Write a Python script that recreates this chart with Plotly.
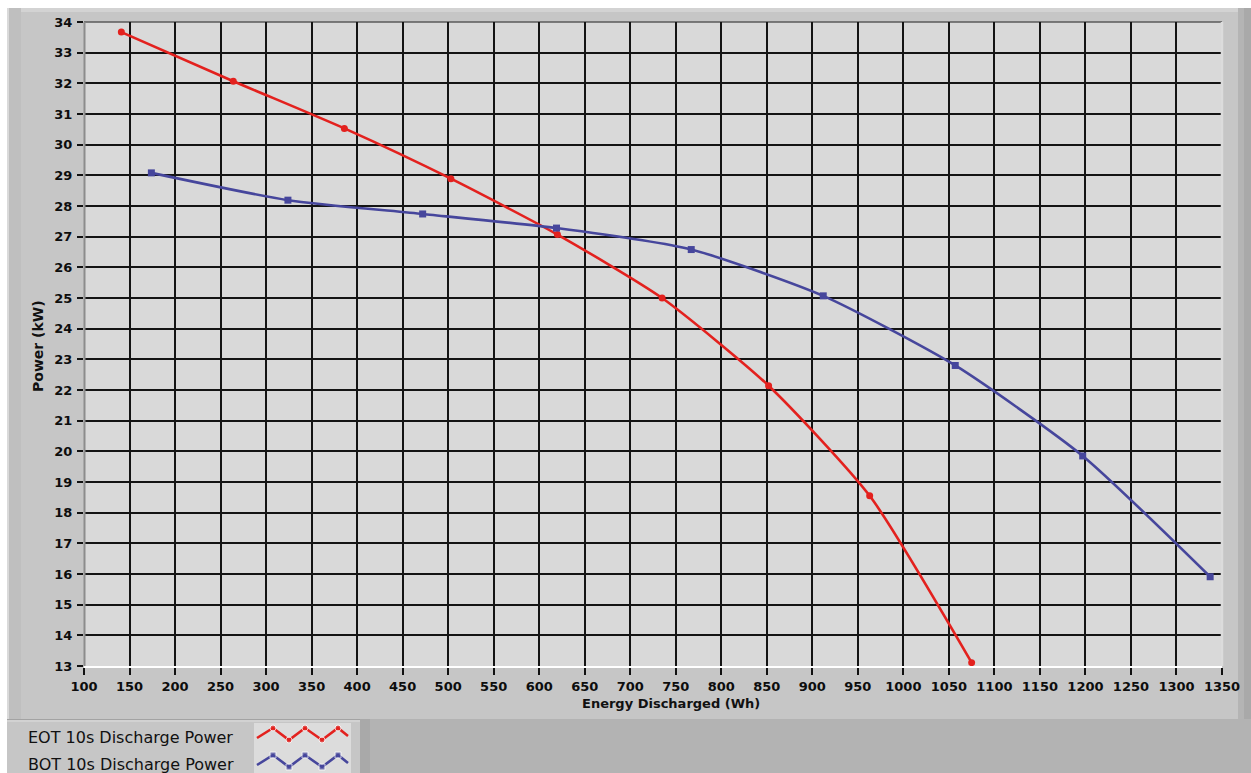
import plotly.graph_objects as go

W, H = 1251, 773

# 10 s discharge power (kW) against energy discharged (Wh)
eot_energy = [141, 264, 386, 503, 620, 735, 852, 963, 1075]
eot_power = [33.67, 32.07, 30.53, 28.89, 27.07, 25.0, 22.14, 18.55, 13.11]
bot_energy = [174, 324, 472, 619, 767, 912, 1057, 1197, 1337]
bot_power = [29.08, 28.19, 27.74, 27.28, 26.58, 25.07, 22.8, 19.85, 15.91]

series_names = ["EOT 10s Discharge Power", "BOT 10s Discharge Power"]
series_colors = ["#e3211e", "#46469c"]

x_ticks = list(range(100, 1351, 50))
y_ticks = list(range(13, 35))

# zigzag glyph drawn in the legend swatch box (local pixel units)
swatch_x = [3, 19, 35, 51, 68, 84, 94]
swatch_dy = [10, 0, 12, 0, 12, 0, 8]
swatch_rows = [5, 32]


def fx(px):
    return px / W


def fy(py):
    return 1 - py / H


def rect(x0, y0, x1, y1, color, layer="below"):
    return dict(type="rect", xref="paper", yref="paper", layer=layer,
                x0=fx(x0), x1=fx(x1), y0=fy(y1), y1=fy(y0),
                fillcolor=color, line=dict(width=0))


def hline(x0, x1, y, color, w=1, layer="below"):
    return dict(type="line", xref="paper", yref="paper", layer=layer,
                x0=fx(x0), x1=fx(x1), y0=fy(y), y1=fy(y),
                line=dict(color=color, width=w))


def vline(x, y0, y1, color, w=1, layer="below"):
    return dict(type="line", xref="paper", yref="paper", layer=layer,
                x0=fx(x), x1=fx(x), y0=fy(y0), y1=fy(y1),
                line=dict(color=color, width=w))


PL, PR, PT, PB = 84, 1222, 22, 666

shapes = [
    # graph panel
    rect(7, 8, W, 719, "#c6c6c6"),
    rect(7, 8, W, 12, "#d3d3d3"),
    rect(7, 8, 21, 719, "#bfbfbf"),
    vline(8, 8, 719, "#dadada", 2),
    rect(1238, 8, W, 719, "#b4b4b4"),
    rect(1244, 8, W, 719, "#a9a9a9"),
    # legend panel and the area beside it
    rect(7, 719, 370, H, "#c6c6c6"),
    hline(7, 370, 719.5, "#a3a3a3", 1),
    hline(7, 370, 721, "#dedede", 1),
    rect(360, 719, 370, H, "#a9a9a9"),
    rect(370, 719, W, H, "#b3b3b3"),
    # plot area and legend swatch box
    rect(PL, PT, PR, PB, "#d9d9d9"),
    rect(254, 723, 351, H, "#dcdcdc"),
    # plot frame edges
    hline(PL, PR, PT, "#5a5a5a", 1.5),
    vline(PL + 0.5, PT, PB, "#8c8c8c", 2, layer="above"),
    vline(PR, PT, PB, "#dcdcdc", 2.5, layer="above"),
]

fig = go.Figure()

for xs, ys, name, color, sym in [
    (eot_energy, eot_power, series_names[0], series_colors[0], "circle"),
    (bot_energy, bot_power, series_names[1], series_colors[1], "square"),
]:
    fig.add_trace(go.Scatter(
        x=xs, y=ys, name=name, mode="lines+markers",
        line=dict(color=color, width=2.6, shape="spline", smoothing=0.6),
        marker=dict(symbol=sym, size=7, color=color),
        showlegend=False,
    ))

for row, color, sym in zip(swatch_rows, series_colors, ["circle", "square"]):
    fig.add_trace(go.Scatter(
        x=swatch_x, y=[row + d for d in swatch_dy],
        mode="lines+markers", xaxis="x2", yaxis="y2",
        line=dict(color=color, width=2.6),
        marker=dict(symbol=sym, size=[0, 6, 6, 6, 6, 6, 0], color=color),
        showlegend=False, hoverinfo="skip", cliponaxis=False,
    ))

tick_font = dict(family="DejaVu Sans", size=13, color="#0d0d0d", weight="bold")
xtitle_font = dict(family="DejaVu Sans", size=13, color="#111111", weight="bold")
ytitle_font = dict(family="DejaVu Sans", size=14, color="#111111", weight="bold")
legend_font = dict(family="DejaVu Sans", size=16, color="#111111")

fig.update_layout(
    width=W, height=H,
    margin=dict(l=0, r=0, t=0, b=0),
    paper_bgcolor="#ffffff",
    plot_bgcolor="rgba(0,0,0,0)",
    showlegend=False,
    shapes=shapes,
    xaxis=dict(
        domain=[fx(PL), fx(PR)], range=[100, 1350],
        tickmode="array", tickvals=x_ticks, ticktext=[str(v) for v in x_ticks],
        ticks="outside", ticklen=7, tickwidth=1.5, tickcolor="#111111",
        tickfont=tick_font, showgrid=True, gridcolor="#141414", gridwidth=1.6,
        showline=True, linecolor="#ffffff", linewidth=2,
        zeroline=False, automargin=False, fixedrange=True,
    ),
    yaxis=dict(
        domain=[fy(PB), fy(PT)], range=[13, 34],
        tickmode="array", tickvals=y_ticks, ticktext=[str(v) for v in y_ticks],
        ticks="outside", ticklen=6, tickwidth=1.5, tickcolor="#111111",
        tickfont=tick_font, showgrid=True, gridcolor="#141414", gridwidth=1.6,
        showline=False,
        zeroline=False, automargin=False, fixedrange=True,
        ticklabelstandoff=2,
    ),
    xaxis2=dict(domain=[fx(254), fx(351)], range=[0, 97], visible=False,
                fixedrange=True),
    yaxis2=dict(domain=[0, fy(723)], range=[50, 0], visible=False,
                fixedrange=True),
    annotations=[
        dict(text="Energy Discharged (Wh)", x=fx(671), y=fy(703),
             xanchor="center", yanchor="middle",
             xref="paper", yref="paper", showarrow=False, font=xtitle_font),
        dict(text="Power (kW)", x=fx(38), y=fy(346), textangle=-90,
             xanchor="center", yanchor="middle",
             xref="paper", yref="paper", showarrow=False, font=ytitle_font),
        dict(text=series_names[0], x=fx(26), y=fy(737),
             xanchor="left", yanchor="middle",
             xref="paper", yref="paper", showarrow=False, font=legend_font),
        dict(text=series_names[1], x=fx(26), y=fy(764),
             xanchor="left", yanchor="middle",
             xref="paper", yref="paper", showarrow=False, font=legend_font),
    ],
)

fig.write_html("out.html", config={"displayModeBar": False})
